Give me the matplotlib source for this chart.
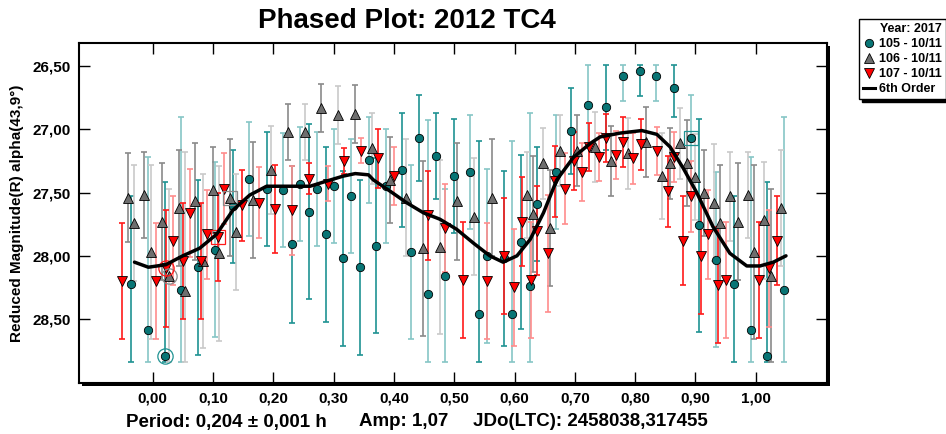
import numpy as np
import matplotlib
matplotlib.use("Agg")
import matplotlib.pyplot as plt
from matplotlib.lines import Line2D
from matplotlib.patches import Rectangle
from matplotlib.ticker import FuncFormatter

plt.rcParams['font.family'] = ['Liberation Sans', 'DejaVu Sans']

# ---------------- data ----------------
# Session 105 (teal circles)
s105_phase = [-0.036, -0.008, 0.020, 0.047, 0.076, 0.103, 0.134, 0.160, 0.190, 0.216,
              0.231, 0.244, 0.259, 0.273, 0.287, 0.300, 0.316, 0.329, 0.344, 0.358,
              0.371, 0.387, 0.413, 0.428, 0.442, 0.457, 0.470, 0.484, 0.499, 0.526,
              0.541, 0.554, 0.583, 0.596, 0.611, 0.626, 0.638, 0.668, 0.694, 0.722,
              0.751, 0.779, 0.808, 0.835, 0.865, 0.893, 0.906, 0.934, 0.963, 0.992,
              1.018, 1.047]
s105_mag = [28.22, 28.59, 28.79, 28.27, 28.09, 27.95, 27.61, 27.39, 27.47, 27.48,
            27.91, 27.43, 27.65, 27.47, 27.83, 27.45, 28.02, 27.53, 28.09, 27.24,
            27.92, 27.45, 27.32, 27.97, 27.07, 28.30, 27.21, 28.16, 27.37, 27.34,
            28.46, 28.00, 28.02, 28.46, 27.89, 28.24, 27.59, 27.34, 27.01, 26.81,
            26.82, 26.58, 26.54, 26.58, 26.67, 27.07, 27.76, 28.03, 28.22, 28.59,
            28.79, 28.27]
s105_err = [0.69, 1.37, 1.37, 1.37, 0.69, 0.69, 0.45, 0.45, 0.45, 0.45,
            0.62, 0.45, 0.69, 0.45, 0.69, 0.45, 0.69, 0.45, 0.69, 0.34,
            0.69, 0.45, 0.45, 0.69, 0.34, 1.37, 0.34, 0.69, 0.45, 0.45,
            1.37, 0.69, 0.69, 1.37, 0.69, 1.37, 0.45, 0.45, 0.34, 0.34,
            0.34, 0.20, 0.20, 0.20, 0.23, 0.34, 0.84, 0.69, 0.69, 1.37,
            1.37, 1.37]

# Session 106 (gray triangles up)
s106_phase = [-0.041, -0.030, -0.014, -0.002, 0.015, 0.028, 0.043, 0.053, 0.071, 0.084,
              0.100, 0.110, 0.128, 0.138, 0.166, 0.197, 0.224, 0.253, 0.280, 0.308,
              0.336, 0.364, 0.394, 0.420, 0.449, 0.476, 0.505, 0.533, 0.562, 0.620,
              0.630, 0.647, 0.658, 0.675, 0.704, 0.733, 0.760, 0.788, 0.818, 0.845,
              0.857, 0.874, 0.886, 0.900, 0.914, 0.930, 0.941, 0.958, 0.970, 0.987,
              0.997, 1.013, 1.025, 1.042]
s106_mag = [27.54, 27.74, 27.52, 27.97, 27.73, 28.16, 27.62, 28.28, 27.57, 28.04,
            27.48, 27.98, 27.54, 27.81, 27.56, 27.32, 27.02, 27.02, 26.83, 26.89,
            26.88, 27.15, 27.40, 27.54, 27.94, 27.93, 27.57, 27.69, 27.54, 27.52,
            27.67, 27.27, 27.78, 27.17, 27.17, 27.14, 27.25, 27.19, 27.10, 27.37,
            27.27, 27.11, 27.27, 27.38, 27.50, 27.58, 27.74, 27.53, 27.73, 27.52,
            27.97, 27.72, 28.16, 27.62]
s106_err = [0.35, 0.46, 0.34, 0.69, 0.46, 0.69, 0.46, 1.10, 0.46, 0.69,
            0.34, 0.69, 0.46, 0.46, 0.46, 0.35, 0.22, 0.22, 0.19, 0.23,
            0.23, 0.28, 0.34, 0.46, 0.69, 0.69, 0.46, 0.46, 0.46, 0.34,
            0.46, 0.28, 0.46, 0.28, 0.28, 0.28, 0.28, 0.28, 0.28, 0.34,
            0.28, 0.28, 0.34, 0.34, 0.34, 0.46, 0.46, 0.35, 0.46, 0.34,
            0.69, 0.46, 0.69, 0.46]

# Session 107 (red triangles down)
s107_phase = [-0.050, 0.005, 0.022, 0.034, 0.051, 0.062, 0.080, 0.091, 0.108, 0.118,
              0.148, 0.176, 0.203, 0.231, 0.260, 0.290, 0.318, 0.345, 0.373, 0.401,
              0.457, 0.485, 0.514, 0.555, 0.583, 0.599, 0.612, 0.627, 0.638, 0.655,
              0.667, 0.684, 0.698, 0.712, 0.724, 0.740, 0.752, 0.768, 0.779, 0.797,
              0.809, 0.837, 0.854, 0.865, 0.879, 0.893, 0.909, 0.921, 0.937, 0.950,
              1.006, 1.022, 1.035]
s107_mag = [28.20, 28.20, 28.10, 27.88, 28.04, 27.66, 28.04, 27.83, 27.85, 27.47,
            27.60, 27.58, 27.63, 27.64, 27.39, 27.43, 27.25, 27.17, 27.23, 27.37,
            27.68, 27.78, 28.19, 28.20, 28.00, 28.25, 27.73, 28.19, 27.80, 27.98,
            27.41, 27.47, 27.25, 27.34, 27.14, 27.22, 27.07, 27.20, 27.10, 27.23,
            27.12, 27.17, 27.49, 27.22, 27.88, 27.53, 28.00, 27.83, 28.23, 28.19,
            28.19, 28.10, 27.88]
s107_err = [0.46, 0.46, 0.46, 0.35, 0.46, 0.35, 0.46, 0.35, 0.35, 0.28,
            0.28, 0.28, 0.35, 0.35, 0.12, 0.14, 0.10, 0.10, 0.23, 0.23,
            0.35, 0.35, 0.46, 0.46, 0.46, 0.46, 0.35, 0.46, 0.35, 0.46,
            0.28, 0.28, 0.23, 0.23, 0.19, 0.19, 0.19, 0.19, 0.20, 0.20,
            0.20, 0.19, 0.28, 0.20, 0.35, 0.28, 0.46, 0.35, 0.46, 0.46,
            0.46, 0.46, 0.35]

# 6th order Fourier fit
fit_phase = [-0.030, -0.007, 0.022, 0.050, 0.078, 0.106, 0.133, 0.161, 0.189, 0.216,
             0.244, 0.261, 0.288, 0.316, 0.336, 0.358, 0.366, 0.394, 0.421, 0.449,
             0.476, 0.504, 0.532, 0.559, 0.581, 0.604, 0.626, 0.648, 0.670, 0.698,
             0.726, 0.742, 0.775, 0.811, 0.836, 0.858, 0.880, 0.902, 0.929, 0.957,
             0.985, 1.007, 1.029, 1.050]
fit_mag = [28.05, 28.09, 28.07, 28.00, 27.94, 27.83, 27.64, 27.52, 27.45, 27.45,
           27.45, 27.45, 27.41, 27.37, 27.35, 27.36, 27.40, 27.49, 27.58, 27.66,
           27.71, 27.79, 27.90, 28.00, 28.05, 28.00, 27.87, 27.66, 27.40, 27.22,
           27.11, 27.06, 27.03, 27.01, 27.04, 27.14, 27.31, 27.50, 27.77, 27.98,
           28.08, 28.08, 28.05, 28.00]

# highlighted (selected) points: index into each session
circled = {'105': 2, '106': 5, '107': 2}
boxed = {'105': 45, '106': 12, '107': 8}

x_ticks = [0.0, 0.1, 0.2, 0.3, 0.4, 0.5, 0.6, 0.7, 0.8, 0.9, 1.0]
y_ticks = [26.5, 27.0, 27.5, 28.0, 28.5]

title = "Phased Plot: 2012 TC4"
ylabel = "Reduced Magnitude(R) alpha(43,9\u00b0)"
footer_parts = ["Period: 0,204 \u00b1 0,001 h", "Amp: 1,07", "JDo(LTC): 2458038,317455"]
legend_title = "Year: 2017"
labels = ["105 - 10/11", "106 - 10/11", "107 - 10/11", "6th Order"]

# ---------------- figure ----------------
W, H = 946, 434
fig = plt.figure(figsize=(W / 100, H / 100), dpi=100)
ax_l, ax_r, ax_t, ax_b = 79, 827, 43, 383
ax = fig.add_axes([ax_l / W, 1 - ax_b / H, (ax_r - ax_l) / W, (ax_b - ax_t) / H])
ax.set_facecolor('white')
ax.set_zorder(2)

# shadow of the frame
shadow = Rectangle(((ax_l + 3) / W, 1 - (ax_b + 3) / H), (ax_r - ax_l) / W, (ax_b - ax_t) / H,
                   transform=fig.transFigure, facecolor='black', edgecolor='none', zorder=1)
fig.patches.append(shadow)

CLIP_TOP, CLIP_BOT = 26.49, 28.84

series = [
    ('105', s105_phase, s105_mag, s105_err, 'o', '#087575', ['#1f9292', '#86c6c6'], 6.0),
    ('106', s106_phase, s106_mag, s106_err, '^', '#6e6e6e', ['#8a8a8a', '#c9c9c9'], 7.2),
    ('107', s107_phase, s107_mag, s107_err, 'v', '#ff0000', ['#ff1a1a', '#ff8c8c'], 7.2),
]

for key, ph, mg, er, mk, fc, ecols, ms in series:
    ph = np.asarray(ph); mg = np.asarray(mg); er = np.asarray(er)
    up = np.clip(mg - er, CLIP_TOP, None)
    lo = np.clip(mg + er, None, CLIP_BOT)
    for i in range(len(ph)):
        c = ecols[i % 2]
        ax.errorbar([ph[i]], [mg[i]], yerr=[[mg[i] - up[i]], [lo[i] - mg[i]]],
                    fmt='none', ecolor=c, elinewidth=1.2, capsize=2.5, capthick=1.2, zorder=2)

for key, ph, mg, er, mk, fc, ecols, ms in series:
    ax.plot(ph, mg, ls='none', marker=mk, ms=ms, mfc=fc, mec='black', mew=0.6, zorder=5)

# selection markers
for key, ph, mg, er, mk, fc, ecols, ms in series:
    i = circled[key]
    ax.plot([ph[i]], [mg[i]], ls='none', marker='o', ms=11, mfc='none',
            mec=ecols[0], mew=0.9, zorder=6)
    j = boxed[key]
    ax.plot([ph[j]], [mg[j]], ls='none', marker='s', ms=10.5, mfc='none',
            mec=ecols[0], mew=0.9, zorder=6)

ax.plot(fit_phase, fit_mag, color='black', lw=2.5, zorder=7, solid_capstyle='round')

ax.set_xlim(-0.122, 1.118)
ax.set_ylim(29.005, 26.318)
ax.set_xticks(x_ticks)
ax.set_yticks(y_ticks)
ax.xaxis.set_major_formatter(FuncFormatter(lambda v, p: f"{v:.2f}".replace('.', ',')))
ax.yaxis.set_major_formatter(FuncFormatter(lambda v, p: f"{v:.2f}".replace('.', ',')))
ax.tick_params(axis='both', direction='in', length=8, width=1.0, top=True, right=True,
               labelsize=11, pad=6)
for lab in ax.get_xticklabels() + ax.get_yticklabels():
    lab.set_fontweight('bold')
for s in ax.spines.values():
    s.set_linewidth(1.5)
    s.set_color('black')

fig.text(17 / W, 1 - 213 / H, ylabel, rotation=90, ha='center', va='center',
         fontsize=11, fontweight='bold')

fig.text(407 / W, 1 - 21 / H, title, ha='center', va='center', fontsize=20, fontweight='bold')
for txt, xp in zip(footer_parts, [126, 359, 473]):
    fig.text(xp / W, 1 - 422 / H, txt, ha='left', va='center', fontsize=13.5, fontweight='bold')

handles = [
    Line2D([], [], ls='none', marker='o', ms=6, mfc='#087575', mec='black', mew=0.6),
    Line2D([], [], ls='none', marker='^', ms=7, mfc='#6e6e6e', mec='black', mew=0.6),
    Line2D([], [], ls='none', marker='v', ms=7, mfc='#ff0000', mec='black', mew=0.6),
    Line2D([], [], color='black', lw=2.2),
]
leg = fig.legend(handles, labels, loc='upper left', bbox_to_anchor=(859 / W, 1 - 19 / H),
                 title=legend_title, frameon=True, fancybox=False,
                 shadow={'color': 'black', 'alpha': 1.0},
                 prop={'weight': 'bold', 'size': 9}, handlelength=1.0, handletextpad=0.3,
                 borderpad=0.3, labelspacing=0.25, borderaxespad=0.0)
leg.get_title().set_fontweight('bold')
leg.get_title().set_fontsize(9)
leg.get_frame().set_edgecolor('black')
leg.get_frame().set_linewidth(1.0)
leg._legend_box.align = "right"

fig.savefig('out.png', dpi=100)
